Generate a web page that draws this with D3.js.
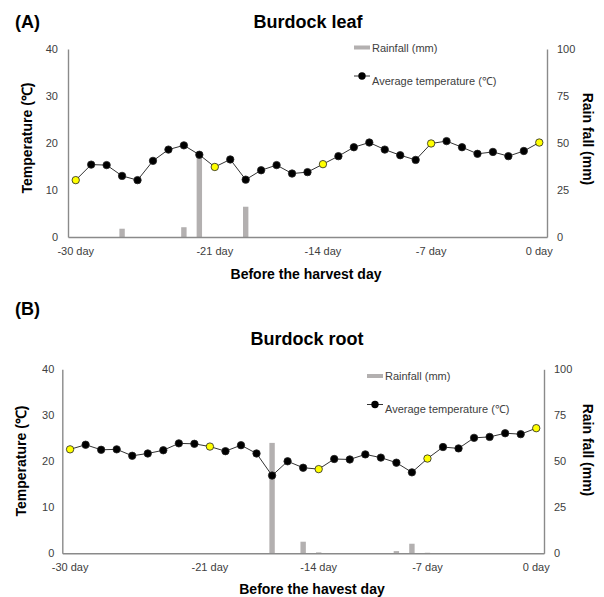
<!DOCTYPE html>
<html>
<head>
<meta charset="utf-8">
<script src="https://cdn.jsdelivr.net/npm/d3@7"></script>
<style>
  body { margin: 0; background: #fff; }
  svg { font-family: "Liberation Sans", Arial, sans-serif; }
</style>
</head>
<body>
<svg id="chart" width="604" height="597"></svg>
<script>
// days before harvest (category axis)
const days = [-30, -29, -28, -27, -26, -25, -24, -23, -22, -21, -20, -19, -18, -17, -16, -15,
  -14, -13, -12, -11, -10, -9, -8, -7, -6, -5, -4, -3, -2, -1, 0];
const tickDays = [-30, -21, -14, -7, 0];
const highlightDays = [-30, -21, -14, -7, 0];
const tempTicks = [0, 10, 20, 30, 40];
const rainTicks = [0, 25, 50, 75, 100];

// (A) burdock leaf
const leafTemp = [12.1, 15.4, 15.3, 13.0, 12.1, 16.2, 18.6, 19.5, 17.5, 14.9, 16.5, 12.2, 14.2, 15.3, 13.5, 13.8,
  15.5, 17.2, 19.1, 20.1, 18.6, 17.4, 16.4, 19.9, 20.4, 19.1, 17.7, 18.1, 17.2, 18.3, 20.1];
const leafRain = [0, 0, 0, 4.4, 0, 0, 0, 5.2, 42, 0, 0, 16.1, 0, 0, 0, 0,
  0, 0, 0, 0, 0, 0, 0, 0, 0, 0, 0, 0, 0, 0, 0];

// (B) burdock root
const rootTemp = [22.6, 23.6, 22.5, 22.6, 21.2, 21.7, 22.4, 23.9, 23.8, 23.2, 22.2, 23.5, 21.7, 16.9, 20.0, 18.6,
  18.3, 20.5, 20.4, 21.5, 20.8, 19.7, 17.6, 20.6, 23.1, 22.8, 25.1, 25.3, 26.1, 25.9, 27.2];
const rootRain = [0, 0, 0, 0, 0, 0, 0, 0, 0, 0, 0, 0, 0, 60, 0, 6.3,
  0.5, 0, 0, 0, 0, 1.2, 5.2, 0.3, 0, 0, 0, 0, 0, 0, 0];

const svg = d3.select("#chart");

function drawPanel(p) {
  const g = svg.append("g");

  const x = d3.scaleBand().domain(days).range([p.left, p.right]).padding(0);
  const yT = d3.scaleLinear().domain([0, 40]).range([p.bottom, p.top]);
  const yR = d3.scaleLinear().domain([0, 100]).range([p.bottom, p.top]);
  const cx = d => x(d) + x.bandwidth() / 2;

  // panel letter + title
  g.append("text").attr("x", 15).attr("y", p.letterY)
    .attr("font-size", 18).attr("font-weight", "bold").text(p.letter);
  g.append("text").attr("x", p.titleX).attr("y", p.titleY)
    .attr("text-anchor", "middle").attr("font-size", 18).attr("font-weight", "bold").text(p.title);

  // rain bars
  g.selectAll(".bar")
    .data(days.map((d, i) => ({ day: d, v: p.rain[i] })).filter(d => d.v > 0))
    .enter().append("rect")
    .attr("x", d => cx(d.day) - 2.7)
    .attr("width", 5.4)
    .attr("y", d => yR(d.v))
    .attr("height", d => p.bottom - yR(d.v))
    .attr("fill", "#b3b0b0");

  // axes
  const styleAxis = sel => {
    sel.select(".domain").attr("stroke", "#8a8a8a").attr("stroke-width", 1.4);
    sel.selectAll("text").attr("fill", "#404040").attr("font-size", 11)
      .attr("font-family", "Liberation Sans, Arial, sans-serif");
  };
  g.append("g").attr("transform", `translate(${p.left},0)`)
    .call(d3.axisLeft(yT).tickValues(tempTicks).tickSize(0).tickPadding(p.leftPad))
    .call(styleAxis);
  g.append("g").attr("transform", `translate(${p.right},0)`)
    .call(d3.axisRight(yR).tickValues(rainTicks).tickSize(0).tickPadding(10))
    .call(styleAxis);
  g.append("g").attr("transform", `translate(0,${p.bottom})`)
    .call(d3.axisBottom(x).tickValues(tickDays).tickFormat(d => d + " day").tickSize(0).tickPadding(10))
    .call(styleAxis);

  // temperature line + points
  const line = d3.line().x(d => cx(d.day)).y(d => yT(d.v));
  const pts = days.map((d, i) => ({ day: d, v: p.temp[i] }));
  g.append("path").datum(pts)
    .attr("fill", "none").attr("stroke", "#333").attr("stroke-width", 1)
    .attr("d", line);
  g.selectAll(".pt").data(pts).enter().append("circle")
    .attr("cx", d => cx(d.day)).attr("cy", d => yT(d.v)).attr("r", 3.7)
    .attr("fill", d => highlightDays.includes(d.day) ? "#ffff00" : "#000")
    .attr("stroke", "#222").attr("stroke-width", 0.8);

  // axis titles
  g.append("text")
    .attr("transform", `translate(${p.leftTitleX},${p.leftTitleY}) rotate(-90)`)
    .attr("text-anchor", "middle").attr("dominant-baseline", "central")
    .attr("font-size", 14).attr("font-weight", "bold").text("Temperature (℃)");
  g.append("text")
    .attr("transform", `translate(588,${p.rightTitleY}) rotate(90)`)
    .attr("text-anchor", "middle").attr("dominant-baseline", "central")
    .attr("font-size", 14).attr("font-weight", "bold").text("Rain fall (mm)");
  g.append("text").attr("x", p.xTitleX).attr("y", p.xTitleY)
    .attr("text-anchor", "middle").attr("font-size", 14).attr("font-weight", "bold").text(p.xTitle);

  // legend
  const lg = g.append("g").attr("transform", `translate(${p.legX},${p.legY})`);
  lg.append("rect").attr("x", 0).attr("y", -2).attr("width", 16).attr("height", 4).attr("fill", "#b3b0b0");
  lg.append("text").attr("x", 18).attr("y", 4).attr("font-size", 11).attr("fill", "#404040").text("Rainfall (mm)");
  lg.append("line").attr("x1", 0).attr("x2", 16).attr("y1", 28.5).attr("y2", 28.5).attr("stroke", "#333");
  lg.append("circle").attr("cx", 8).attr("cy", 28.5).attr("r", 3.7).attr("fill", "#000");
  lg.append("text").attr("x", 18).attr("y", 37).attr("font-size", 11).attr("fill", "#404040")
    .text("Average temperature (℃)");
}

drawPanel({
  letter: "(A)", letterY: 28, title: "Burdock leaf", titleX: 308, titleY: 28,
  left: 68, right: 547, top: 49, bottom: 237, leftPad: 10,
  temp: leafTemp, rain: leafRain,
  leftTitleX: 27, leftTitleY: 138, rightTitleY: 139,
  xTitle: "Before the harvest day", xTitleX: 306, xTitleY: 279,
  legX: 354, legY: 47.5
});

drawPanel({
  letter: "(B)", letterY: 315, title: "Burdock root", titleX: 307, titleY: 345,
  left: 62.3, right: 544, top: 369.3, bottom: 553.3, leftPad: 8,
  temp: rootTemp, rain: rootRain,
  leftTitleX: 21, leftTitleY: 461, rightTitleY: 450,
  xTitle: "Before the havest day", xTitleX: 312, xTitleY: 594,
  legX: 367, legY: 376
});
</script>
</body>
</html>
